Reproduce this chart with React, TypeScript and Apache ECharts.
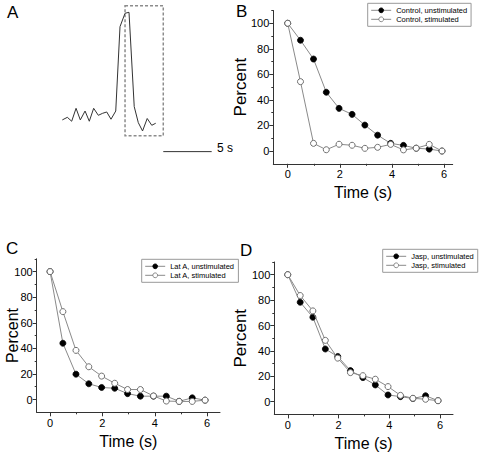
import React, { useEffect, useRef } from "react";
import * as echarts from "echarts";

// ---------- Data ----------
// Panel A: example trace (time in s, signal in a.u.)
const traceTime = [0, 0.52, 0.97, 1.42, 1.86, 2.35, 2.79, 3.24, 3.72, 4.17, 4.59, 5.03, 5.52, 5.96, 6.48, 6.89, 7.43, 7.85, 8.29, 8.77, 9.24, 9.65];
const traceSignal = [9.3, 11.5, 8.2, 19.1, 9.3, 16.8, 8.2, 19.1, 13.2, 14.9, 16.0, 9.9, 16.8, 87.9, 99.2, 100, 20.5, 7.0, 0, 10.5, 4.8, 6.5];
const boxTime = [6.48, 10.43];
const boxSignal = [-4, 105.6];
const scaleBarTime = [10.43, 15.43];
const scaleBarLevel = -17.4;
const scaleBarLabel = "5 s";

// Panels B-D: shared time points (s)
const times = [0, 0.49, 0.99, 1.48, 1.97, 2.47, 2.96, 3.45, 3.95, 4.44, 4.93, 5.43, 5.92];
const controlUnstim = [100, 86.7, 72, 46, 33.4, 28.7, 20.3, 12.4, 6, 4.4, 2.2, 1.5, 0];
const controlStim = [100, 54.3, 6, 1, 5.3, 4.5, 2.1, 2.9, 5.2, 0.9, 2.2, 5.2, 0];
const latAUnstim = [100, 44, 19.8, 12.3, 9.4, 8.8, 4.6, 2.6, 2.6, 2.6, -1.4, 1.3, -0.5];
const latAStim = [100, 68.7, 38.4, 25.6, 18.3, 12.7, 7.8, 7.8, 2.8, -1.2, -1.5, -1.5, -0.5];
const jaspUnstim = [100, 78.3, 66.5, 41.5, 35.6, 24.5, 19, 13.2, 5.3, 4, 2.5, 4.7, 0.8];
const jaspStim = [100, 83.6, 71.5, 48.3, 34.3, 22.9, 20.5, 17.7, 11.9, 5, 2.7, 1.9, 0.8];

const xMajor = [0, 2, 4, 6];
const xMinor = [1, 3, 5];
const yMajor = [0, 20, 40, 60, 80, 100];
const yMinor = [10, 30, 50, 70, 90, 110];

const panelLetters = ["A", "B", "C", "D"];
const xName = "Time (s)";
const yName = "Percent";

const FONT = "Liberation Sans, Arial, sans-serif";
const AXIS_COLOR = "#333";
const LINE_COLOR = "#8a8a8a";

function zip(xs: number[], ys: number[]) {
  return xs.map((x, i) => [x, ys[i]]);
}

export default function App() {
  const ref = useRef<HTMLDivElement>(null);
  useEffect(() => {
    if (!ref.current) return;
    const chart = echarts.init(ref.current, null, { renderer: "svg" });

    const panels = [
      { grid: { left: 273.3, top: 10.5, width: 179.4, height: 153.3 }, xmin: -0.553, xmax: 6.33, gap: 24, nameSize: 17,
        names: ["Control, unstimulated", "Control, stimulated"], vals: [controlUnstim, controlStim],
        legend: { left: 367.7, top: 3.3 } },
      { grid: { left: 36.7, top: 258.8, width: 183.3, height: 153.5 }, xmin: -0.51, xmax: 6.49, gap: 16, nameSize: 16,
        names: ["Lat A, unstimulated", "Lat A, stimulated"], vals: [latAUnstim, latAStim],
        legend: { left: 141.7, top: 259.3 } },
      { grid: { left: 274.3, top: 262, width: 178.7, height: 152.4 }, xmin: -0.53, xmax: 6.51, gap: 25, nameSize: 17,
        names: ["Jasp, unstimulated", "Jasp, stimulated"], vals: [jaspUnstim, jaspStim],
        legend: { left: 382.7, top: 249.3 } },
    ];

    const grids: any[] = [{ left: 62.3, top: 4.0, width: 154.9, height: 150.7, outerBoundsMode: "none", containLabel: false }];
    const xAxes: any[] = [{ gridIndex: 0, type: "value", min: 0, max: 16, show: false }];
    const yAxes: any[] = [{ gridIndex: 0, type: "value", min: -20, max: 107, show: false }];
    const series: any[] = [
      {
        type: "line", xAxisIndex: 0, yAxisIndex: 0, data: zip(traceTime, traceSignal),
        symbol: "none", lineStyle: { color: "#333", width: 1 }, clip: false, silent: true,
        markArea: {
          silent: true,
          itemStyle: { color: "rgba(0,0,0,0)", borderColor: "#8c8c8c", borderWidth: 1.5, borderType: [3, 2] },
          data: [[{ xAxis: boxTime[0], yAxis: boxSignal[1] }, { xAxis: boxTime[1], yAxis: boxSignal[0] }]],
        },
      },
      {
        type: "line", xAxisIndex: 0, yAxisIndex: 0,
        data: scaleBarTime.map((t) => [t, scaleBarLevel]),
        symbol: "none", lineStyle: { color: "#333", width: 1 }, clip: false, silent: true,
      },
    ];
    const legends: any[] = [];

    panels.forEach((p, k) => {
      const gi = k + 1;
      grids.push({ ...p.grid, outerBoundsMode: "none", containLabel: false });
      const xi = xAxes.length;
      xAxes.push({
        gridIndex: gi, type: "value", min: p.xmin, max: p.xmax,
        name: xName, nameLocation: "middle", nameGap: 21, nameMoveOverlap: false,
        nameTextStyle: { fontFamily: FONT, fontSize: 16, color: "#000" },
        axisLine: { onZero: false, lineStyle: { color: AXIS_COLOR, width: 1 } },
        axisTick: { show: true, customValues: xMajor, length: 4, inside: false, lineStyle: { color: AXIS_COLOR } },
        axisLabel: { customValues: xMajor, margin: 5, fontFamily: FONT, fontSize: 11, color: "#000" },
        splitLine: { show: false },
      });
      xAxes.push({
        gridIndex: gi, type: "value", min: p.xmin, max: p.xmax, position: "bottom",
        axisLine: { show: false, onZero: false },
        axisTick: { show: true, customValues: xMinor, length: 2, lineStyle: { color: AXIS_COLOR } },
        axisLabel: { show: false }, splitLine: { show: false },
      });
      const yi = yAxes.length;
      yAxes.push({
        gridIndex: gi, type: "value", min: -10, max: 110,
        name: yName, nameLocation: "middle", nameGap: p.gap, nameMoveOverlap: false,
        nameTextStyle: { fontFamily: FONT, fontSize: p.nameSize, color: "#000" },
        axisLine: { onZero: false, lineStyle: { color: AXIS_COLOR, width: 1 } },
        axisTick: { show: true, customValues: yMajor, length: 4, inside: false, lineStyle: { color: AXIS_COLOR } },
        axisLabel: { customValues: yMajor, margin: 4, fontFamily: FONT, fontSize: 11, color: "#000" },
        splitLine: { show: false },
      });
      yAxes.push({
        gridIndex: gi, type: "value", min: -10, max: 110, position: "left",
        axisLine: { show: false, onZero: false },
        axisTick: { show: true, customValues: yMinor, length: 2, lineStyle: { color: AXIS_COLOR } },
        axisLabel: { show: false }, splitLine: { show: false },
      });
      p.names.forEach((nm, j) => {
        const filled = j === 0;
        series.push({
          type: "line", name: nm, xAxisIndex: xi, yAxisIndex: yi,
          data: zip(times, p.vals[j]),
          symbol: "circle", symbolSize: 6, clip: false,
          lineStyle: { color: LINE_COLOR, width: 1 },
          itemStyle: filled
            ? { color: "#000", borderColor: "#000", borderWidth: 0.8 }
            : { color: "#fff", borderColor: "#707070", borderWidth: 1 },
          z: filled ? 2 : 3,
        });
      });
      legends.push({
        data: p.names, orient: "vertical", left: p.legend.left, top: p.legend.top,
        padding: [3, 4, 3, 3], itemGap: 1, itemWidth: 20, itemHeight: 6,
        borderColor: "#999", borderWidth: 1, backgroundColor: "#fff",
        lineStyle: { width: 1 },
        itemStyle: { borderWidth: 0.8 },
        textStyle: { fontFamily: FONT, fontSize: 7.5, color: "#000" },
        selectedMode: false,
      });
    });

    const letterPos = [[7, 4], [236, 3], [6, 240], [240, 242]];
    const graphic: any[] = panelLetters.map((L, i) => ({
      type: "text", left: letterPos[i][0], top: letterPos[i][1],
      style: { text: L, font: `17px ${FONT}`, fill: "#000" },
    }));
    graphic.push({
      type: "text", left: 217, top: 142,
      style: { text: scaleBarLabel, font: `12px ${FONT}`, fill: "#000" },
    });

    chart.setOption({
      animation: false,
      backgroundColor: "#fff",
      grid: grids,
      xAxis: xAxes,
      yAxis: yAxes,
      legend: legends,
      series,
      graphic,
    });
    return () => chart.dispose();
  }, []);
  return <div ref={ref} style={{ position: "fixed", left: 0, top: 0, width: 483, height: 458 }} />;
}
